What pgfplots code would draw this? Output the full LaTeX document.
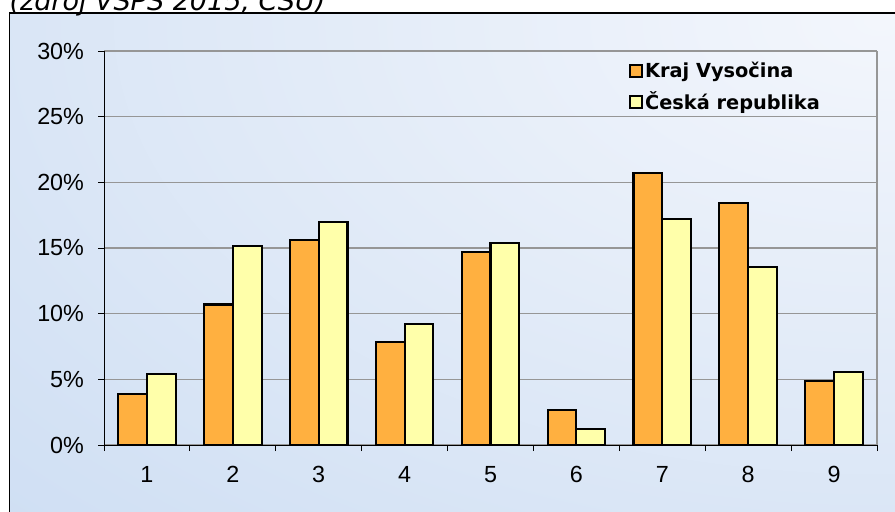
\documentclass[border=0pt]{standalone}
\usepackage{fontspec}
\usepackage{pgfplots}
\pgfplotsset{compat=1.18}
\newfontfamily\tickf{Liberation Sans}
\newfontfamily\legf{DejaVu Sans}
\newfontfamily\titf{DejaVu Sans}
\definecolor{barO}{RGB}{255,176,64}
\definecolor{barY}{RGB}{255,255,170}
\definecolor{bgBlue}{RGB}{198,217,241}
\definecolor{bgLight}{RGB}{243,246,252}
\definecolor{gridC}{RGB}{150,150,150}
\begin{document}
\begin{tikzpicture}
\path[use as bounding box, clip] (0,0) rectangle (671.25pt,383.25pt);
\fill[white] (0,0) rectangle (671.25pt,383.25pt);
\begin{scope}
\clip (7.125pt,-5pt) rectangle (672pt,373.5pt);
\fill[bgBlue] (7.125pt,-5pt) rectangle (672pt,373.5pt);
\shade[inner color=bgLight, outer color=bgBlue] (660pt,368pt) ellipse (1150pt and 680pt);
\end{scope}
\draw[black, line width=0.9pt] (7.125pt,-5pt) -- (7.125pt,373.5pt) -- (675pt,373.5pt);
\node[anchor=base west, inner sep=0pt, font=\titf\itshape\fontsize{20.25}{24}\selectfont] at (7pt,375.4pt) {(zdroj VŠPS 2015, ČSÚ)};
\begin{axis}[
  at={(78pt,49.5pt)}, anchor=south west, scale only axis,
  width=579.75pt, height=295.5pt,
  ymin=0, ymax=30, xmin=0.5, xmax=9.5,
  ybar, bar width=0.335,
  axis x line*=bottom, axis y line*=left,
  axis line style={black, line width=0.75pt, -},
  xtick={0.5,1.5,...,9.5}, x tick label as interval,
  xticklabels={1,2,3,4,5,6,7,8,9},
  ytick={0,5,...,30},
  yticklabels={0\%,5\%,10\%,15\%,20\%,25\%,30\%},
  tick align=outside, major tick length=4.5pt,
  tick style={black, line width=0.75pt},
  ymajorgrids, major grid style={color=gridC, line width=1pt},
  tick label style={font=\tickf\fontsize{17.5}{20}\selectfont},
  yticklabel style={xshift=-7pt},
  xticklabel style={yshift=-8pt},
  legend style={at={(0.673,0.985)}, anchor=north west, draw=none, fill=none,
    font=\legf\bfseries\fontsize{14.5}{17}\selectfont, row sep=5pt},
  legend cell align=left,
  legend image code/.code={\draw[#1, line width=1.5pt] (0pt,-4.5pt) rectangle (9pt,4.5pt);},
  after end axis/.code={\draw[gridC, line width=1pt] (rel axis cs:1,0) -- (rel axis cs:1,1);},
]
\addplot[fill=barO, draw=black, line width=1.6pt, bar shift=-0.1675] coordinates {
(1,3.9) (2,10.7) (3,15.6) (4,7.85) (5,14.7) (6,2.67) (7,20.7) (8,18.4) (9,4.9)};
\addplot[fill=barY, draw=black, line width=1.6pt, bar shift=0.1675] coordinates {
(1,5.4) (2,15.15) (3,17.0) (4,9.2) (5,15.4) (6,1.2) (7,17.2) (8,13.55) (9,5.55)};
\legend{Kraj Vysočina, Česká republika}
\end{axis}
\end{tikzpicture}
\end{document}
